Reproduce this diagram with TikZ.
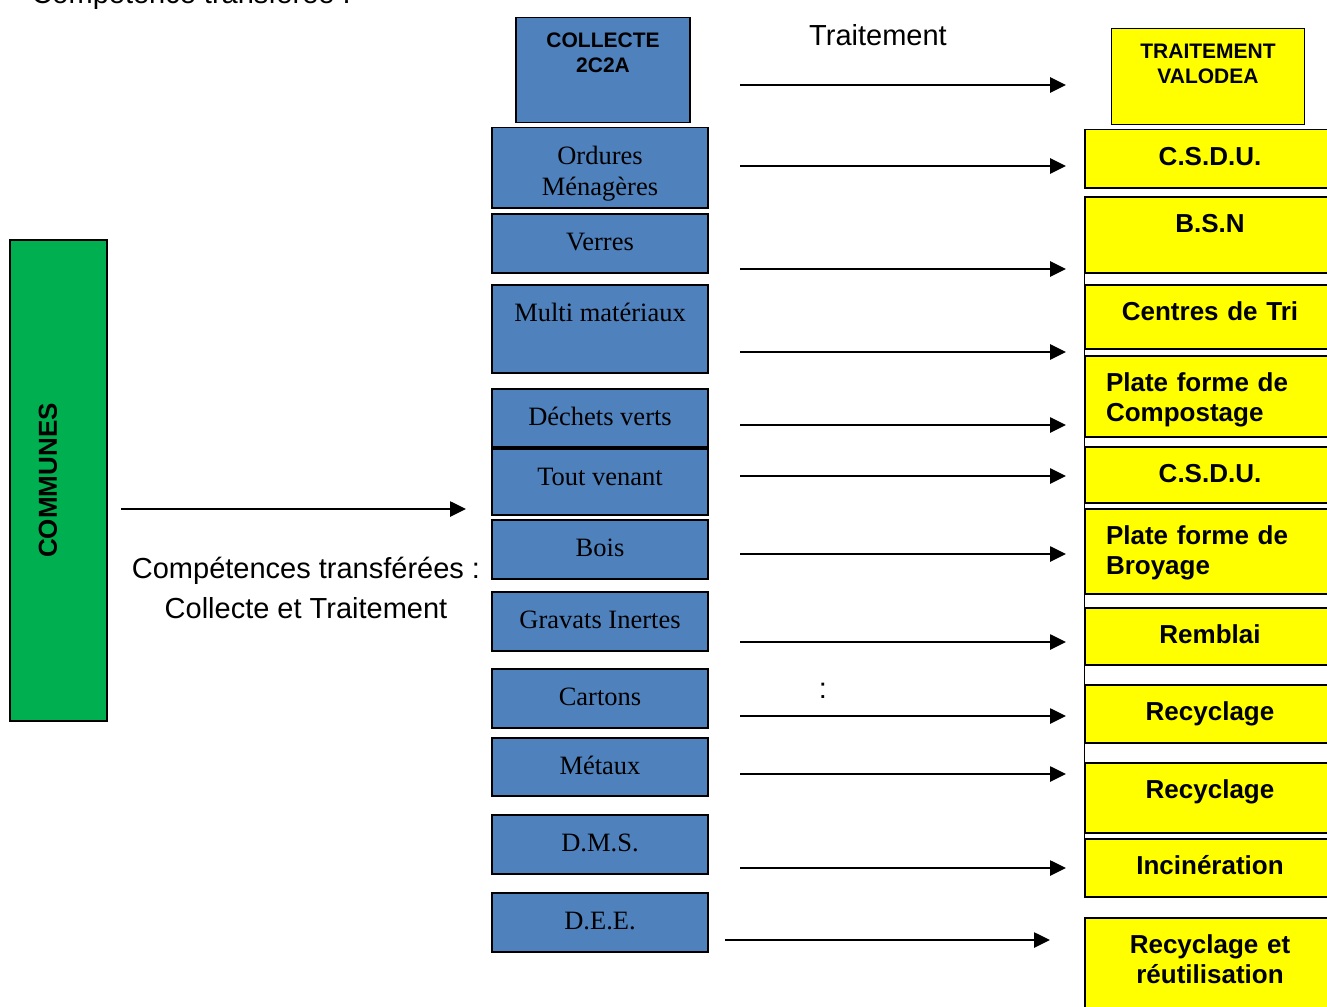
\documentclass[tikz,border=0pt]{standalone}
\usepackage{fontspec}
\setmainfont{Liberation Serif}
\newfontfamily\arialfont{Liberation Sans}
\usetikzlibrary{arrows.meta}
\definecolor{bleu}{HTML}{4F81BD}
\definecolor{vert}{HTML}{00B050}
\definecolor{jaune}{HTML}{FFFF00}

\begin{document}
\begin{tikzpicture}[x=1pt, y=-1pt,
    bbox/.style={draw, line width=1.5pt, fill=bleu, anchor=north, inner ysep=0pt, minimum width=216pt, align=center, font=\fontsize{26.5}{31}\selectfont, text height=37pt, text depth=#1},
    ybox/.style={draw, line width=1.5pt, fill=jaune, anchor=north, inner ysep=0pt, inner xsep=21pt, text width=208pt, align=center, font=\arialfont\bfseries\fontsize{26}{30}\selectfont, text height=36pt, text depth=#1},
    titre/.style={font=\arialfont\fontsize{29}{40}\selectfont},
    fleche/.style={line width=2.6pt, -{Triangle[length=16pt, width=15pt]}}]
    \clip (0,0) rectangle (1327,1006);

    \node[titre, anchor=base west] (competence) at (28,4) {Compétence transférée :};
    \node[titre, anchor=base] (traitement) at (878,46) {Traitement};
    \node[titre, anchor=base, align=center] (transfert) at (306,618) {Compétences transférées :\\Collecte et Traitement};
    \node[titre, anchor=base] (deuxpoints) at (823,698) {:};

    \node[draw, line width=1.5pt, fill=vert, rotate=90, minimum width=481pt, inner ysep=0pt, text height=46.8pt, text depth=50.2pt, font=\arialfont\bfseries\fontsize{26}{30}\selectfont] (communes) at (58.5,480.5) {COMMUNES};

    \node[bbox=50pt, minimum width=174pt, text height=55pt, font=\arialfont\bfseries\fontsize{21}{25}\selectfont] (collecte) at (603,17) {COLLECTE\\2C2A};
    \node[bbox=12pt, text height=68pt] (ordures) at (600,127) {Ordures\\Ménagères};
    \node[bbox=22pt] (verres) at (600,213) {Verres};
    \node[bbox=51pt] (multi) at (600,284) {Multi matériaux};
    \node[bbox=21pt] (verts) at (600,388) {Déchets verts};
    \node[bbox=29pt] (venant) at (600,448) {Tout venant};
    \node[bbox=22pt] (bois) at (600,519) {Bois};
    \node[bbox=22pt] (gravats) at (600,591) {Gravats Inertes};
    \node[bbox=22pt] (cartons) at (600,668) {Cartons};
    \node[bbox=21pt] (metaux) at (600,737) {Métaux};
    \node[bbox=22pt] (dms) at (600,814) {D.M.S.};
    \node[bbox=22pt] (dee) at (600,892) {D.E.E.};

    \node[ybox=66pt, text width=173pt, inner xsep=10pt, text height=30pt, font=\arialfont\bfseries\fontsize{21}{25}\selectfont] (valodea) at (1208,28) {TRAITEMENT\\VALODEA};
    \node[ybox=22pt] (csdu) at (1210,129) {C.S.D.U.};
    \node[ybox=40pt] (bsn) at (1210,196) {B.S.N};
    \node[ybox=28pt] (tri) at (1210,284) {Centres de Tri};
    \node[ybox=45pt, align=left] (compost) at (1210,355) {Plate forme de\\Compostage};
    \node[ybox=20pt] (csdub) at (1210,446) {C.S.D.U.};
    \node[ybox=49pt, align=left] (broyage) at (1210,508) {Plate forme de\\Broyage};
    \node[ybox=21pt] (remblai) at (1210,607) {Remblai};
    \node[ybox=22pt] (recyc) at (1210,684) {Recyclage};
    \node[ybox=34pt] (recycb) at (1210,762) {Recyclage};
    \node[ybox=22pt] (incin) at (1210,838) {Incinération};
    \node[ybox=57pt] (reut) at (1210,917) {Recyclage et\\réutilisation};
    \draw[line width=1.2pt] (bsn.south west) -- (incin.north west);

    \coordinate (c1) at (121,509);
    \coordinate (c2) at (466,509);
    \draw[fleche] (c1) -- (c2);
    \foreach \y [count=\i] in {85,166,269,352,425,476,554,642,716,774,868} {
        \coordinate (d\i) at (740,\y);
        \coordinate (f\i) at (1066,\y);
        \draw[fleche] (d\i) -- (f\i);
    }
    \coordinate (d12) at (725,940);
    \coordinate (f12) at (1050,940);
    \draw[fleche] (d12) -- (f12);
\end{tikzpicture}
\end{document}
